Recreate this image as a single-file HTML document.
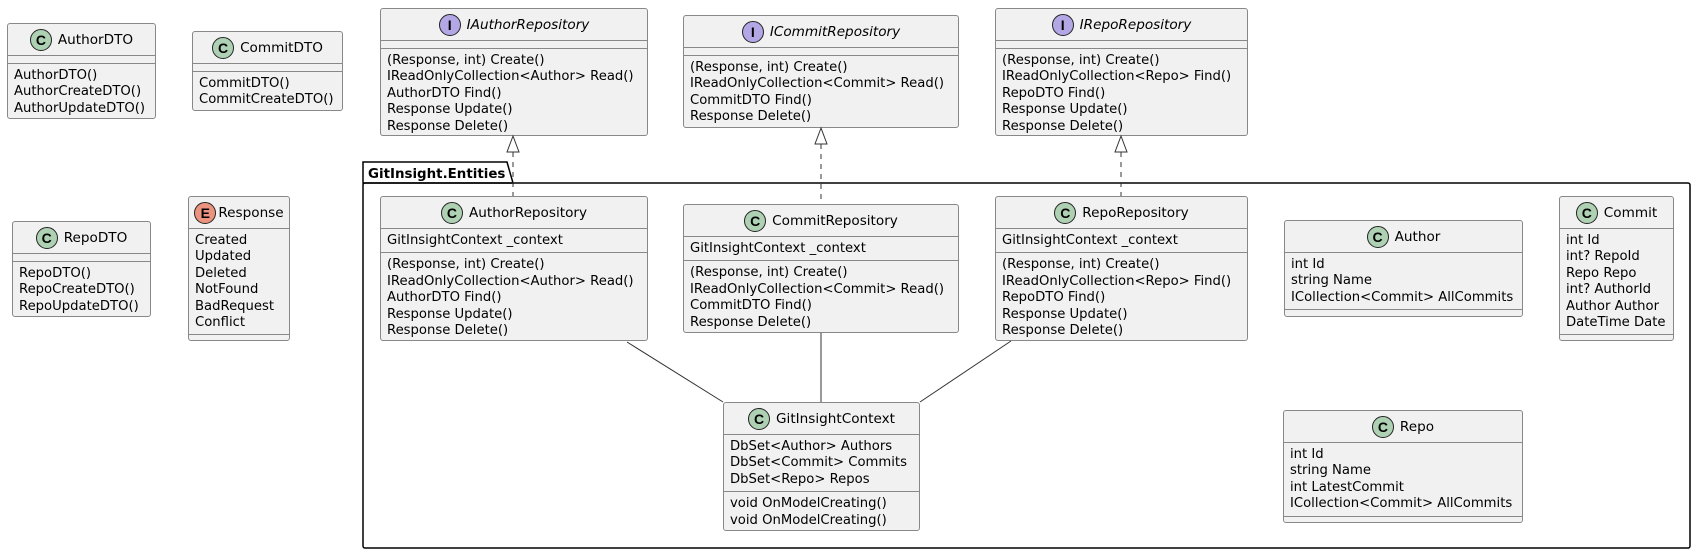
<!DOCTYPE html>
<html><head><meta charset="utf-8">
<style>
html,body{margin:0;padding:0;background:#fff;}
body{width:1696px;height:553px;position:relative;overflow:hidden;font-family:"DejaVu Sans","Liberation Sans",sans-serif;font-size:13.2px;color:#000;}
.b{position:absolute;background:#F1F1F1;border:1px solid #888;border-radius:3px;box-sizing:border-box;overflow:hidden;}
.h{height:32px;box-sizing:border-box;border-bottom:1px solid #888;display:flex;align-items:center;justify-content:center;white-space:nowrap;font-size:13.6px;}
.h.i span.n{font-style:italic;}
.ic{width:22px;height:22px;border-radius:50%;border:1px solid #222;box-sizing:border-box;display:inline-flex;align-items:center;justify-content:center;font-weight:bold;font-size:14px;margin-right:6px;font-family:"Liberation Sans",sans-serif;}
.c{background:#ADD1B2;} .iI{background:#B4A7E5;} .e{background:#EB937F;}
.s{padding:4px 5px 3px 6px;line-height:16.4px;white-space:nowrap;border-bottom:1px solid #888;}
.s:last-child{border-bottom:none;}
.em{height:7px;border-bottom:1px solid #888;}
svg{position:absolute;left:0;top:0;}
</style></head><body>
<svg width="1696" height="553">
<path d="M363,183 L363,162 L507,162 L513,183 Z" fill="none" stroke="#000" stroke-width="1.5"/>
<rect x="363" y="183" width="1327" height="365" fill="none" stroke="#000" stroke-width="1.5" rx="2"/>
<text x="368" y="178" font-family="DejaVu Sans,Liberation Sans,sans-serif" font-size="13.4" font-weight="bold">GitInsight.Entities</text>
</svg>

<div class="b" style="left:7px;top:23px;width:149px;height:96px"><div class="h"><span class="ic c">C</span>AuthorDTO</div><div class="em"></div><div class="s">AuthorDTO()<br>AuthorCreateDTO()<br>AuthorUpdateDTO()</div></div>
<div class="b" style="left:192px;top:31px;width:151px;height:80px"><div class="h"><span class="ic c">C</span>CommitDTO</div><div class="em"></div><div class="s">CommitDTO()<br>CommitCreateDTO()</div></div>
<div class="b" style="left:12px;top:221px;width:139px;height:96px"><div class="h"><span class="ic c">C</span>RepoDTO</div><div class="em"></div><div class="s">RepoDTO()<br>RepoCreateDTO()<br>RepoUpdateDTO()</div></div>
<div class="b" style="left:188px;top:196px;width:102px;height:145px"><div class="h"><span class="ic e" style="margin-right:2px">E</span>Response</div><div class="s">Created<br>Updated<br>Deleted<br>NotFound<br>BadRequest<br>Conflict</div><div class="s"></div></div>

<div class="b" style="left:380px;top:8px;width:268px;height:128px"><div class="h i"><span class="ic iI">I</span><span class="n">IAuthorRepository</span></div><div class="em"></div><div class="s">(Response, int) Create()<br>IReadOnlyCollection&lt;Author&gt; Read()<br>AuthorDTO Find()<br>Response Update()<br>Response Delete()</div></div>
<div class="b" style="left:683px;top:15px;width:276px;height:113px"><div class="h i"><span class="ic iI">I</span><span class="n">ICommitRepository</span></div><div class="em"></div><div class="s">(Response, int) Create()<br>IReadOnlyCollection&lt;Commit&gt; Read()<br>CommitDTO Find()<br>Response Delete()</div></div>
<div class="b" style="left:995px;top:8px;width:253px;height:128px"><div class="h i"><span class="ic iI">I</span><span class="n">IRepoRepository</span></div><div class="em"></div><div class="s">(Response, int) Create()<br>IReadOnlyCollection&lt;Repo&gt; Find()<br>RepoDTO Find()<br>Response Update()<br>Response Delete()</div></div>

<div class="b" style="left:380px;top:196px;width:268px;height:145px"><div class="h"><span class="ic c">C</span>AuthorRepository</div><div class="s">GitInsightContext _context</div><div class="s">(Response, int) Create()<br>IReadOnlyCollection&lt;Author&gt; Read()<br>AuthorDTO Find()<br>Response Update()<br>Response Delete()</div></div>
<div class="b" style="left:683px;top:204px;width:276px;height:129px"><div class="h"><span class="ic c">C</span>CommitRepository</div><div class="s">GitInsightContext _context</div><div class="s">(Response, int) Create()<br>IReadOnlyCollection&lt;Commit&gt; Read()<br>CommitDTO Find()<br>Response Delete()</div></div>
<div class="b" style="left:995px;top:196px;width:253px;height:145px"><div class="h"><span class="ic c">C</span>RepoRepository</div><div class="s">GitInsightContext _context</div><div class="s">(Response, int) Create()<br>IReadOnlyCollection&lt;Repo&gt; Find()<br>RepoDTO Find()<br>Response Update()<br>Response Delete()</div></div>

<div class="b" style="left:1284px;top:220px;width:239px;height:97px"><div class="h"><span class="ic c">C</span>Author</div><div class="s">int Id<br>string Name<br>ICollection&lt;Commit&gt; AllCommits</div><div class="s"></div></div>
<div class="b" style="left:1559px;top:196px;width:115px;height:145px"><div class="h"><span class="ic c">C</span>Commit</div><div class="s">int Id<br>int? RepoId<br>Repo Repo<br>int? AuthorId<br>Author Author<br>DateTime Date</div><div class="s"></div></div>
<div class="b" style="left:1283px;top:410px;width:240px;height:113px"><div class="h"><span class="ic c">C</span>Repo</div><div class="s">int Id<br>string Name<br>int LatestCommit<br>ICollection&lt;Commit&gt; AllCommits</div><div class="s"></div></div>

<div class="b" style="left:723px;top:402px;width:197px;height:129px"><div class="h"><span class="ic c">C</span>GitInsightContext</div><div class="s">DbSet&lt;Author&gt; Authors<br>DbSet&lt;Commit&gt; Commits<br>DbSet&lt;Repo&gt; Repos</div><div class="s">void OnModelCreating()<br>void OnModelCreating()</div></div>

<svg width="1696" height="553" style="pointer-events:none">
<g stroke="#333" stroke-width="1" fill="none">
<line x1="627" y1="342" x2="723" y2="402"/>
<line x1="821" y1="333" x2="821" y2="402"/>
<line x1="1011" y1="341" x2="920" y2="402"/>
<line x1="513" y1="152" x2="513" y2="196" stroke-dasharray="5,5"/>
<line x1="821" y1="144" x2="821" y2="204" stroke-dasharray="5,5"/>
<line x1="1121" y1="152" x2="1121" y2="196" stroke-dasharray="5,5"/>
</g>
<g stroke="#333" stroke-width="1" fill="#fff">
<polygon points="513,136 507,152 519,152"/>
<polygon points="821,128 815,144 827,144"/>
<polygon points="1121,136 1115,152 1127,152"/>
</g>
</svg>
</body></html>
